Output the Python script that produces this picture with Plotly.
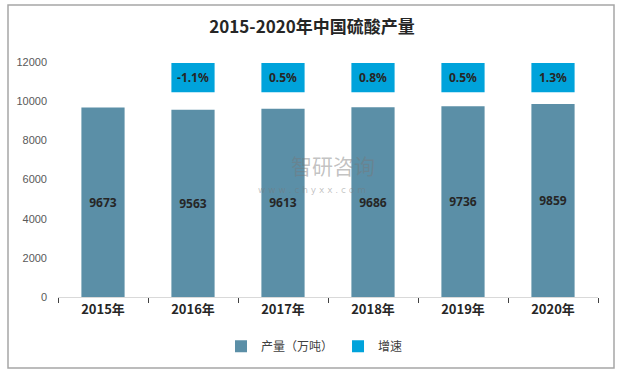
import plotly.graph_objects as go

years = ["2015年", "2016年", "2017年", "2018年", "2019年", "2020年"]
output = [9673, 9563, 9613, 9686, 9736, 9859]
growth = ["", "-1.1%", "0.5%", "0.8%", "0.5%", "1.3%"]
y_ticks = [0, 2000, 4000, 6000, 8000, 10000, 12000]

BOX_BASE = 10450
BOX_HEIGHT = 1500

fig = go.Figure()
fig.add_trace(go.Bar(
    x=years, y=output, name="产量（万吨）",
    marker=dict(color="#5B8FA7", line=dict(width=0)),
    width=0.48,
    text=[str(v) for v in output], textposition="inside", insidetextanchor="middle",
    textfont=dict(family="Noto Sans, DejaVu Sans", size=12, color="#262626", weight="bold"),
    textangle=0,
))
box_x = [y for y, g in zip(years, growth) if g]
box_t = [g for g in growth if g]
fig.add_trace(go.Bar(
    x=box_x, y=[BOX_HEIGHT] * len(box_x), base=BOX_BASE, name="增速",
    marker=dict(color="#00A3DB", line=dict(width=0)),
    width=0.48,
    text=box_t, textposition="inside", insidetextanchor="middle",
    textfont=dict(family="Noto Sans, DejaVu Sans", size=12, color="#262626", weight="bold"),
    textangle=0,
))

fig.update_layout(
    width=624, height=374,
    margin=dict(l=58, r=26, t=62, b=77, autoexpand=False),
    paper_bgcolor="white", plot_bgcolor="white",
    barmode="overlay",
    showlegend=True,
    title=dict(text="<b>2015-2020年中国硫酸产量</b>", x=0.5, xanchor="center", y=0.927, yanchor="middle",
               font=dict(family="Noto Sans CJK SC", size=17, color="#262626")),
    legend=dict(orientation="h", x=0.475, xanchor="center", y=-0.21, yanchor="middle",
                font=dict(family="Noto Sans CJK SC", size=12, color="#404040"),
                itemwidth=30, traceorder="normal"),
    xaxis=dict(showgrid=False, showline=True, linecolor="#D9D9D9", linewidth=1, automargin=False,
               ticks="outside", tickson="boundaries", ticklen=5, tickcolor="#404040",
               tickfont=dict(family="Noto Sans CJK SC", size=13, color="#262626", weight="bold")),
    yaxis=dict(range=[0, 12000], tickvals=y_ticks, tickformat="d", showgrid=False, zeroline=False,
               showline=False, ticks="", ticklabelstandoff=10, automargin=False,
               tickfont=dict(family="Liberation Sans, Arial", size=11, color="#595959")),
    shapes=[dict(type="rect", xref="paper", yref="paper",
                 x0=-50/540, x1=556/540, y0=-71/235, y1=292/235,
                 line=dict(color="#A6A6A6", width=1.5), fillcolor="rgba(0,0,0,0)", layer="below")],
    annotations=[
        dict(text="智研咨询", xref="paper", yref="paper", x=0.51, y=0.56, showarrow=False,
             font=dict(family="Noto Sans CJK SC", size=21, color="rgba(120,120,120,0.45)")),
        dict(text="w w w . c h y x x . c o m", xref="paper", yref="paper", x=0.47, y=0.455, showarrow=False,
             font=dict(family="DejaVu Sans", size=9, color="rgba(120,120,120,0.45)")),
    ],
)

fig.write_html("out.html", config={"displayModeBar": False},
               post_script="document.body.style.margin='0';document.body.style.overflow='hidden';")
